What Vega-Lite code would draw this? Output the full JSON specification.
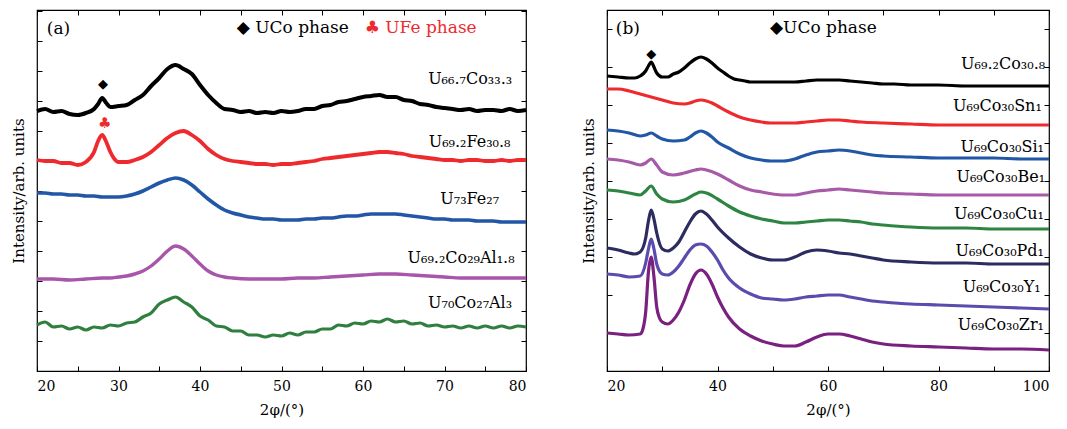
{
"$schema":"https://vega.github.io/schema/vega-lite/v6.json",
"background":"white",
"padding":{"left":10,"top":8,"right":5,"bottom":5},
"config":{"font":"DejaVu Serif","view":{"stroke":"black","strokeWidth":1.2},
"axis":{"grid":false,"domain":false,"tickColor":"black","labelColor":"black","titleColor":"black","labelFontSize":14,"titleFontSize":15,"titleFontWeight":"normal","tickSize":-5,"labelFont":"DejaVu Serif","titleFont":"DejaVu Serif"},
"axisX":{"labelPadding":13,"titlePadding":9},
"axisY":{"labelPadding":9,"titlePadding":10}},
"spacing":81,
"bounds":"flush",
"resolve":{"scale":{"color":"independent","strokeWidth":"independent"}},
"datasets":{
"a":[
{"s":"a1","x":20,"y":260},{"s":"a1","x":21,"y":262},{"s":"a1","x":22,"y":259},{"s":"a1","x":23,"y":260},{"s":"a1","x":24,"y":257},{"s":"a1","x":25,"y":256},{"s":"a1","x":26,"y":258},{"s":"a1","x":27,"y":262},{"s":"a1","x":27.5,"y":267},{"s":"a1","x":28,"y":273},{"s":"a1","x":28.5,"y":268},{"s":"a1","x":29,"y":264},{"s":"a1","x":30,"y":265},{"s":"a1","x":31,"y":266},{"s":"a1","x":32,"y":271},{"s":"a1","x":33,"y":276},{"s":"a1","x":34,"y":285},{"s":"a1","x":35,"y":293},{"s":"a1","x":36,"y":302},{"s":"a1","x":37,"y":306},{"s":"a1","x":38,"y":302},{"s":"a1","x":39,"y":297},{"s":"a1","x":40,"y":286},{"s":"a1","x":41,"y":276},{"s":"a1","x":42,"y":268},{"s":"a1","x":43,"y":262},{"s":"a1","x":44,"y":261},{"s":"a1","x":45,"y":259},{"s":"a1","x":46,"y":260},{"s":"a1","x":47,"y":258},{"s":"a1","x":48,"y":259},{"s":"a1","x":49,"y":258},{"s":"a1","x":50,"y":260},{"s":"a1","x":51,"y":259},{"s":"a1","x":52,"y":260},{"s":"a1","x":53,"y":262},{"s":"a1","x":54,"y":262},{"s":"a1","x":55,"y":265},{"s":"a1","x":56,"y":266},{"s":"a1","x":57,"y":269},{"s":"a1","x":58,"y":270},{"s":"a1","x":59,"y":272},{"s":"a1","x":60,"y":274},{"s":"a1","x":61,"y":275},{"s":"a1","x":62,"y":276},{"s":"a1","x":63,"y":274},{"s":"a1","x":64,"y":274},{"s":"a1","x":65,"y":271},{"s":"a1","x":66,"y":270},{"s":"a1","x":67,"y":267},{"s":"a1","x":68,"y":266},{"s":"a1","x":69,"y":264},{"s":"a1","x":70,"y":263},{"s":"a1","x":71,"y":262},{"s":"a1","x":72,"y":261},{"s":"a1","x":73,"y":262},{"s":"a1","x":74,"y":260},{"s":"a1","x":75,"y":261},{"s":"a1","x":76,"y":261},{"s":"a1","x":77,"y":260},{"s":"a1","x":78,"y":262},{"s":"a1","x":79,"y":260},{"s":"a1","x":80,"y":261},
{"s":"a2","x":20,"y":211},{"s":"a2","x":21,"y":210},{"s":"a2","x":22,"y":210},{"s":"a2","x":23,"y":208},{"s":"a2","x":24,"y":208},{"s":"a2","x":25,"y":206},{"s":"a2","x":26,"y":209},{"s":"a2","x":27,"y":219},{"s":"a2","x":27.5,"y":230},{"s":"a2","x":28,"y":236},{"s":"a2","x":28.5,"y":229},{"s":"a2","x":29,"y":219},{"s":"a2","x":29.5,"y":212},{"s":"a2","x":30,"y":209},{"s":"a2","x":31,"y":209},{"s":"a2","x":32,"y":211},{"s":"a2","x":33,"y":214},{"s":"a2","x":34,"y":219},{"s":"a2","x":35,"y":226},{"s":"a2","x":36,"y":233},{"s":"a2","x":37,"y":238},{"s":"a2","x":38,"y":240},{"s":"a2","x":39,"y":236},{"s":"a2","x":40,"y":230},{"s":"a2","x":41,"y":222},{"s":"a2","x":42,"y":216},{"s":"a2","x":43,"y":212},{"s":"a2","x":44,"y":210},{"s":"a2","x":45,"y":209},{"s":"a2","x":46,"y":208},{"s":"a2","x":47,"y":207},{"s":"a2","x":48,"y":207},{"s":"a2","x":49,"y":206},{"s":"a2","x":50,"y":207},{"s":"a2","x":51,"y":207},{"s":"a2","x":52,"y":208},{"s":"a2","x":53,"y":209},{"s":"a2","x":54,"y":210},{"s":"a2","x":55,"y":212},{"s":"a2","x":56,"y":213},{"s":"a2","x":57,"y":214},{"s":"a2","x":58,"y":215},{"s":"a2","x":59,"y":216},{"s":"a2","x":60,"y":217},{"s":"a2","x":61,"y":218},{"s":"a2","x":62,"y":219},{"s":"a2","x":63,"y":219},{"s":"a2","x":64,"y":218},{"s":"a2","x":65,"y":217},{"s":"a2","x":66,"y":215},{"s":"a2","x":67,"y":214},{"s":"a2","x":68,"y":213},{"s":"a2","x":69,"y":212},{"s":"a2","x":70,"y":211},{"s":"a2","x":71,"y":211},{"s":"a2","x":72,"y":210},{"s":"a2","x":73,"y":211},{"s":"a2","x":74,"y":211},{"s":"a2","x":75,"y":210},{"s":"a2","x":76,"y":210},{"s":"a2","x":77,"y":211},{"s":"a2","x":78,"y":210},{"s":"a2","x":79,"y":211},{"s":"a2","x":80,"y":211},
{"s":"a3","x":20,"y":178},{"s":"a3","x":21,"y":178},{"s":"a3","x":22,"y":177},{"s":"a3","x":23,"y":177},{"s":"a3","x":24,"y":176},{"s":"a3","x":25,"y":176},{"s":"a3","x":26,"y":175},{"s":"a3","x":27,"y":175},{"s":"a3","x":28,"y":174},{"s":"a3","x":29,"y":174},{"s":"a3","x":30,"y":174},{"s":"a3","x":31,"y":175},{"s":"a3","x":32,"y":177},{"s":"a3","x":33,"y":180},{"s":"a3","x":34,"y":184},{"s":"a3","x":35,"y":188},{"s":"a3","x":36,"y":191},{"s":"a3","x":37,"y":193},{"s":"a3","x":38,"y":191},{"s":"a3","x":39,"y":186},{"s":"a3","x":40,"y":179},{"s":"a3","x":41,"y":172},{"s":"a3","x":42,"y":166},{"s":"a3","x":43,"y":161},{"s":"a3","x":44,"y":158},{"s":"a3","x":45,"y":156},{"s":"a3","x":46,"y":154},{"s":"a3","x":47,"y":153},{"s":"a3","x":48,"y":152},{"s":"a3","x":49,"y":152},{"s":"a3","x":50,"y":151},{"s":"a3","x":51,"y":151},{"s":"a3","x":52,"y":151},{"s":"a3","x":53,"y":152},{"s":"a3","x":54,"y":152},{"s":"a3","x":55,"y":153},{"s":"a3","x":56,"y":153},{"s":"a3","x":57,"y":154},{"s":"a3","x":58,"y":155},{"s":"a3","x":59,"y":155},{"s":"a3","x":60,"y":156},{"s":"a3","x":61,"y":157},{"s":"a3","x":62,"y":157},{"s":"a3","x":63,"y":157},{"s":"a3","x":64,"y":157},{"s":"a3","x":65,"y":156},{"s":"a3","x":66,"y":155},{"s":"a3","x":67,"y":154},{"s":"a3","x":68,"y":153},{"s":"a3","x":69,"y":152},{"s":"a3","x":70,"y":152},{"s":"a3","x":71,"y":151},{"s":"a3","x":72,"y":151},{"s":"a3","x":73,"y":151},{"s":"a3","x":74,"y":150},{"s":"a3","x":75,"y":150},{"s":"a3","x":76,"y":150},{"s":"a3","x":77,"y":149},{"s":"a3","x":78,"y":149},{"s":"a3","x":79,"y":149},{"s":"a3","x":80,"y":149},
{"s":"a4","x":20,"y":92},{"s":"a4","x":22,"y":92},{"s":"a4","x":24,"y":91},{"s":"a4","x":26,"y":92},{"s":"a4","x":28,"y":93},{"s":"a4","x":29,"y":93},{"s":"a4","x":30,"y":94},{"s":"a4","x":31,"y":95},{"s":"a4","x":32,"y":97},{"s":"a4","x":33,"y":100},{"s":"a4","x":34,"y":105},{"s":"a4","x":35,"y":112},{"s":"a4","x":36,"y":120},{"s":"a4","x":37,"y":125},{"s":"a4","x":38,"y":122},{"s":"a4","x":39,"y":115},{"s":"a4","x":40,"y":107},{"s":"a4","x":41,"y":100},{"s":"a4","x":42,"y":96},{"s":"a4","x":43,"y":94},{"s":"a4","x":44,"y":93},{"s":"a4","x":46,"y":92},{"s":"a4","x":48,"y":92},{"s":"a4","x":50,"y":92},{"s":"a4","x":52,"y":93},{"s":"a4","x":54,"y":93},{"s":"a4","x":56,"y":94},{"s":"a4","x":58,"y":95},{"s":"a4","x":60,"y":96},{"s":"a4","x":62,"y":97},{"s":"a4","x":64,"y":97},{"s":"a4","x":66,"y":96},{"s":"a4","x":68,"y":95},{"s":"a4","x":70,"y":94},{"s":"a4","x":72,"y":93},{"s":"a4","x":75,"y":93},{"s":"a4","x":80,"y":93},
{"s":"a5","x":20,"y":46},{"s":"a5","x":21,"y":49},{"s":"a5","x":22,"y":44},{"s":"a5","x":23,"y":45},{"s":"a5","x":24,"y":42},{"s":"a5","x":25,"y":44},{"s":"a5","x":26,"y":41},{"s":"a5","x":27,"y":44},{"s":"a5","x":28,"y":43},{"s":"a5","x":29,"y":46},{"s":"a5","x":30,"y":45},{"s":"a5","x":31,"y":48},{"s":"a5","x":32,"y":49},{"s":"a5","x":33,"y":54},{"s":"a5","x":34,"y":58},{"s":"a5","x":35,"y":67},{"s":"a5","x":36,"y":71},{"s":"a5","x":37,"y":74},{"s":"a5","x":38,"y":69},{"s":"a5","x":39,"y":64},{"s":"a5","x":40,"y":55},{"s":"a5","x":41,"y":51},{"s":"a5","x":42,"y":45},{"s":"a5","x":43,"y":44},{"s":"a5","x":44,"y":40},{"s":"a5","x":45,"y":40},{"s":"a5","x":46,"y":36},{"s":"a5","x":47,"y":36},{"s":"a5","x":48,"y":34},{"s":"a5","x":49,"y":36},{"s":"a5","x":50,"y":35},{"s":"a5","x":51,"y":38},{"s":"a5","x":52,"y":36},{"s":"a5","x":53,"y":39},{"s":"a5","x":54,"y":39},{"s":"a5","x":55,"y":42},{"s":"a5","x":56,"y":42},{"s":"a5","x":57,"y":46},{"s":"a5","x":58,"y":45},{"s":"a5","x":59,"y":48},{"s":"a5","x":60,"y":47},{"s":"a5","x":61,"y":50},{"s":"a5","x":62,"y":49},{"s":"a5","x":63,"y":52},{"s":"a5","x":64,"y":49},{"s":"a5","x":65,"y":50},{"s":"a5","x":66,"y":47},{"s":"a5","x":67,"y":48},{"s":"a5","x":68,"y":45},{"s":"a5","x":69,"y":46},{"s":"a5","x":70,"y":44},{"s":"a5","x":71,"y":45},{"s":"a5","x":72,"y":43},{"s":"a5","x":73,"y":45},{"s":"a5","x":74,"y":43},{"s":"a5","x":75,"y":45},{"s":"a5","x":76,"y":43},{"s":"a5","x":77,"y":45},{"s":"a5","x":78,"y":43},{"s":"a5","x":79,"y":45},{"s":"a5","x":80,"y":44}
],
"b":[
{"s":"b1","x":20,"y":295},{"s":"b1","x":22,"y":294},{"s":"b1","x":24,"y":293},{"s":"b1","x":25,"y":293},{"s":"b1","x":26,"y":295},{"s":"b1","x":27,"y":300},{"s":"b1","x":27.5,"y":305},{"s":"b1","x":28,"y":309},{"s":"b1","x":28.5,"y":304},{"s":"b1","x":29,"y":298},{"s":"b1","x":30,"y":294},{"s":"b1","x":31,"y":294},{"s":"b1","x":32,"y":297},{"s":"b1","x":33,"y":299},{"s":"b1","x":34,"y":303},{"s":"b1","x":35,"y":308},{"s":"b1","x":36,"y":312},{"s":"b1","x":37,"y":314},{"s":"b1","x":38,"y":312},{"s":"b1","x":39,"y":308},{"s":"b1","x":40,"y":303},{"s":"b1","x":41,"y":299},{"s":"b1","x":42,"y":295},{"s":"b1","x":43,"y":292},{"s":"b1","x":44,"y":291},{"s":"b1","x":45,"y":290},{"s":"b1","x":46,"y":289},{"s":"b1","x":48,"y":289},{"s":"b1","x":50,"y":289},{"s":"b1","x":52,"y":289},{"s":"b1","x":54,"y":289},{"s":"b1","x":56,"y":290},{"s":"b1","x":58,"y":291},{"s":"b1","x":60,"y":291},{"s":"b1","x":62,"y":291},{"s":"b1","x":64,"y":290},{"s":"b1","x":66,"y":289},{"s":"b1","x":68,"y":288},{"s":"b1","x":70,"y":287},{"s":"b1","x":72,"y":287},{"s":"b1","x":75,"y":286},{"s":"b1","x":80,"y":286},{"s":"b1","x":85,"y":285},{"s":"b1","x":90,"y":285},{"s":"b1","x":95,"y":285},{"s":"b1","x":100,"y":285},
{"s":"b2","x":20,"y":282},{"s":"b2","x":22,"y":282},{"s":"b2","x":24,"y":280},{"s":"b2","x":26,"y":277},{"s":"b2","x":28,"y":274},{"s":"b2","x":30,"y":271},{"s":"b2","x":32,"y":268},{"s":"b2","x":34,"y":267},{"s":"b2","x":35,"y":268},{"s":"b2","x":36,"y":270},{"s":"b2","x":37,"y":271},{"s":"b2","x":38,"y":270},{"s":"b2","x":39,"y":268},{"s":"b2","x":40,"y":265},{"s":"b2","x":42,"y":259},{"s":"b2","x":44,"y":254},{"s":"b2","x":46,"y":251},{"s":"b2","x":48,"y":249},{"s":"b2","x":50,"y":248},{"s":"b2","x":52,"y":248},{"s":"b2","x":54,"y":248},{"s":"b2","x":56,"y":249},{"s":"b2","x":58,"y":250},{"s":"b2","x":60,"y":251},{"s":"b2","x":62,"y":251},{"s":"b2","x":64,"y":250},{"s":"b2","x":66,"y":249},{"s":"b2","x":70,"y":248},{"s":"b2","x":75,"y":247},{"s":"b2","x":80,"y":246},{"s":"b2","x":85,"y":246},{"s":"b2","x":90,"y":246},{"s":"b2","x":95,"y":246},{"s":"b2","x":100,"y":246},
{"s":"b3","x":20,"y":241},{"s":"b3","x":22,"y":240},{"s":"b3","x":24,"y":238},{"s":"b3","x":26,"y":235},{"s":"b3","x":27,"y":236},{"s":"b3","x":28,"y":238},{"s":"b3","x":29,"y":235},{"s":"b3","x":30,"y":232},{"s":"b3","x":32,"y":230},{"s":"b3","x":34,"y":231},{"s":"b3","x":35,"y":234},{"s":"b3","x":36,"y":238},{"s":"b3","x":37,"y":240},{"s":"b3","x":38,"y":238},{"s":"b3","x":39,"y":234},{"s":"b3","x":40,"y":229},{"s":"b3","x":42,"y":223},{"s":"b3","x":44,"y":217},{"s":"b3","x":46,"y":213},{"s":"b3","x":48,"y":211},{"s":"b3","x":50,"y":210},{"s":"b3","x":52,"y":210},{"s":"b3","x":54,"y":212},{"s":"b3","x":56,"y":216},{"s":"b3","x":58,"y":219},{"s":"b3","x":60,"y":220},{"s":"b3","x":62,"y":221},{"s":"b3","x":64,"y":220},{"s":"b3","x":66,"y":218},{"s":"b3","x":68,"y":216},{"s":"b3","x":70,"y":215},{"s":"b3","x":75,"y":214},{"s":"b3","x":80,"y":213},{"s":"b3","x":85,"y":213},{"s":"b3","x":90,"y":213},{"s":"b3","x":95,"y":212},{"s":"b3","x":100,"y":212},
{"s":"b4","x":20,"y":212},{"s":"b4","x":22,"y":211},{"s":"b4","x":24,"y":209},{"s":"b4","x":26,"y":206},{"s":"b4","x":27,"y":208},{"s":"b4","x":28,"y":212},{"s":"b4","x":29,"y":206},{"s":"b4","x":30,"y":199},{"s":"b4","x":32,"y":196},{"s":"b4","x":34,"y":198},{"s":"b4","x":36,"y":201},{"s":"b4","x":37,"y":202},{"s":"b4","x":38,"y":201},{"s":"b4","x":40,"y":197},{"s":"b4","x":42,"y":191},{"s":"b4","x":44,"y":185},{"s":"b4","x":46,"y":181},{"s":"b4","x":48,"y":179},{"s":"b4","x":50,"y":177},{"s":"b4","x":52,"y":176},{"s":"b4","x":54,"y":176},{"s":"b4","x":56,"y":178},{"s":"b4","x":58,"y":180},{"s":"b4","x":60,"y":181},{"s":"b4","x":62,"y":182},{"s":"b4","x":64,"y":181},{"s":"b4","x":66,"y":180},{"s":"b4","x":68,"y":179},{"s":"b4","x":70,"y":178},{"s":"b4","x":75,"y":177},{"s":"b4","x":80,"y":176},{"s":"b4","x":85,"y":176},{"s":"b4","x":90,"y":176},{"s":"b4","x":95,"y":176},{"s":"b4","x":100,"y":176},
{"s":"b5","x":20,"y":181},{"s":"b5","x":22,"y":180},{"s":"b5","x":24,"y":178},{"s":"b5","x":26,"y":176},{"s":"b5","x":27,"y":180},{"s":"b5","x":28,"y":185},{"s":"b5","x":29,"y":177},{"s":"b5","x":30,"y":172},{"s":"b5","x":32,"y":169},{"s":"b5","x":34,"y":171},{"s":"b5","x":36,"y":177},{"s":"b5","x":37,"y":179},{"s":"b5","x":38,"y":178},{"s":"b5","x":40,"y":172},{"s":"b5","x":42,"y":165},{"s":"b5","x":44,"y":159},{"s":"b5","x":46,"y":155},{"s":"b5","x":48,"y":152},{"s":"b5","x":50,"y":150},{"s":"b5","x":52,"y":148},{"s":"b5","x":54,"y":148},{"s":"b5","x":56,"y":149},{"s":"b5","x":58,"y":150},{"s":"b5","x":60,"y":151},{"s":"b5","x":62,"y":151},{"s":"b5","x":64,"y":150},{"s":"b5","x":66,"y":149},{"s":"b5","x":68,"y":147},{"s":"b5","x":70,"y":146},{"s":"b5","x":75,"y":144},{"s":"b5","x":80,"y":143},{"s":"b5","x":85,"y":143},{"s":"b5","x":90,"y":142},{"s":"b5","x":95,"y":142},{"s":"b5","x":100,"y":142},
{"s":"b6","x":20,"y":123},{"s":"b6","x":22,"y":121},{"s":"b6","x":24,"y":118},{"s":"b6","x":25,"y":117},{"s":"b6","x":26,"y":119},{"s":"b6","x":27,"y":133},{"s":"b6","x":27.5,"y":150},{"s":"b6","x":28,"y":161},{"s":"b6","x":28.5,"y":152},{"s":"b6","x":29,"y":138},{"s":"b6","x":30,"y":122},{"s":"b6","x":31,"y":120},{"s":"b6","x":32,"y":123},{"s":"b6","x":33,"y":129},{"s":"b6","x":34,"y":139},{"s":"b6","x":35,"y":149},{"s":"b6","x":36,"y":157},{"s":"b6","x":37,"y":160},{"s":"b6","x":38,"y":157},{"s":"b6","x":39,"y":151},{"s":"b6","x":40,"y":144},{"s":"b6","x":42,"y":133},{"s":"b6","x":44,"y":124},{"s":"b6","x":46,"y":117},{"s":"b6","x":48,"y":113},{"s":"b6","x":50,"y":111},{"s":"b6","x":52,"y":111},{"s":"b6","x":54,"y":114},{"s":"b6","x":56,"y":119},{"s":"b6","x":58,"y":121},{"s":"b6","x":60,"y":120},{"s":"b6","x":62,"y":118},{"s":"b6","x":64,"y":117},{"s":"b6","x":66,"y":115},{"s":"b6","x":68,"y":113},{"s":"b6","x":70,"y":111},{"s":"b6","x":75,"y":109},{"s":"b6","x":80,"y":108},{"s":"b6","x":85,"y":108},{"s":"b6","x":90,"y":107},{"s":"b6","x":95,"y":107},{"s":"b6","x":100,"y":107},
{"s":"b7","x":20,"y":97},{"s":"b7","x":22,"y":96},{"s":"b7","x":24,"y":94},{"s":"b7","x":26,"y":95},{"s":"b7","x":27,"y":108},{"s":"b7","x":27.5,"y":122},{"s":"b7","x":28,"y":132},{"s":"b7","x":28.5,"y":122},{"s":"b7","x":29,"y":107},{"s":"b7","x":30,"y":97},{"s":"b7","x":31,"y":96},{"s":"b7","x":32,"y":99},{"s":"b7","x":33,"y":105},{"s":"b7","x":34,"y":113},{"s":"b7","x":35,"y":121},{"s":"b7","x":36,"y":126},{"s":"b7","x":37,"y":127},{"s":"b7","x":38,"y":125},{"s":"b7","x":39,"y":119},{"s":"b7","x":40,"y":111},{"s":"b7","x":41,"y":101},{"s":"b7","x":42,"y":93},{"s":"b7","x":44,"y":83},{"s":"b7","x":46,"y":77},{"s":"b7","x":48,"y":73},{"s":"b7","x":50,"y":72},{"s":"b7","x":52,"y":71},{"s":"b7","x":54,"y":72},{"s":"b7","x":56,"y":74},{"s":"b7","x":58,"y":75},{"s":"b7","x":60,"y":76},{"s":"b7","x":62,"y":76},{"s":"b7","x":64,"y":74},{"s":"b7","x":66,"y":72},{"s":"b7","x":68,"y":70},{"s":"b7","x":70,"y":69},{"s":"b7","x":75,"y":67},{"s":"b7","x":80,"y":66},{"s":"b7","x":85,"y":65},{"s":"b7","x":90,"y":64},{"s":"b7","x":95,"y":63},{"s":"b7","x":100,"y":62},
{"s":"b8","x":20,"y":38},{"s":"b8","x":22,"y":37},{"s":"b8","x":24,"y":36},{"s":"b8","x":26,"y":37},{"s":"b8","x":26.5,"y":42},{"s":"b8","x":27,"y":59},{"s":"b8","x":27.5,"y":99},{"s":"b8","x":28,"y":114},{"s":"b8","x":28.5,"y":94},{"s":"b8","x":29,"y":64},{"s":"b8","x":29.5,"y":53},{"s":"b8","x":30,"y":49},{"s":"b8","x":31,"y":47},{"s":"b8","x":32,"y":51},{"s":"b8","x":33,"y":59},{"s":"b8","x":34,"y":71},{"s":"b8","x":35,"y":86},{"s":"b8","x":36,"y":97},{"s":"b8","x":37,"y":101},{"s":"b8","x":38,"y":97},{"s":"b8","x":39,"y":87},{"s":"b8","x":40,"y":74},{"s":"b8","x":41,"y":63},{"s":"b8","x":42,"y":54},{"s":"b8","x":44,"y":42},{"s":"b8","x":46,"y":35},{"s":"b8","x":48,"y":30},{"s":"b8","x":50,"y":27},{"s":"b8","x":52,"y":25},{"s":"b8","x":54,"y":25},{"s":"b8","x":56,"y":29},{"s":"b8","x":58,"y":34},{"s":"b8","x":60,"y":37},{"s":"b8","x":62,"y":37},{"s":"b8","x":64,"y":35},{"s":"b8","x":66,"y":32},{"s":"b8","x":68,"y":29},{"s":"b8","x":70,"y":27},{"s":"b8","x":75,"y":25},{"s":"b8","x":80,"y":24},{"s":"b8","x":85,"y":23},{"s":"b8","x":90,"y":22},{"s":"b8","x":95,"y":22},{"s":"b8","x":100,"y":21}
],
"la":[
{"t":"U₆₆.₇Co₃₃.₃","x":78.3,"y":292},{"t":"U₆₉.₂Fe₃₀.₈","x":78.1,"y":229},{"t":"U₇₃Fe₂₇","x":76.7,"y":172},{"t":"U₆₉.₂Co₂₉Al₁.₈","x":78.6,"y":113},{"t":"U₇₀Co₂₇Al₃","x":78.3,"y":68}
],
"lb":[
{"t":"U₆₉.₂Co₃₀.₈","x":99.3,"y":307},{"t":"U₆₉Co₃₀Sn₁","x":98.7,"y":265},{"t":"U₆₉Co₃₀Si₁","x":99.1,"y":224},{"t":"U₆₉Co₃₀Be₁","x":99.3,"y":194},{"t":"U₆₉Co₃₀Cu₁","x":99.1,"y":157},{"t":"U₆₉Co₃₀Pd₁","x":99.1,"y":120},{"t":"U₆₉Co₃₀Y₁","x":98.5,"y":84},{"t":"U₆₉Co₃₀Zr₁","x":99.1,"y":46}
],
"na":[{"t":"(a)","x":21.2,"y":342},{"t":"◆  UCo phase","x":44.5,"y":343}],
"nr":[{"t":"♣ UFe phase","x":60.2,"y":343}],
"ma":[{"t":"◆","x":28.1,"y":287}],
"mr":[{"t":"♣","x":28.3,"y":248}],
"nb":[{"t":"(b)","x":21.6,"y":342},{"t":"◆UCo phase","x":49.5,"y":343}],
"mb":[{"t":"◆","x":28,"y":317}]
},
"hconcat":[
{"width":489,"height":361,
"resolve":{"axis":{"x":"independent","y":"independent"}},
"layer":[
{"data":{"name":"a"},"mark":{"type":"line","interpolate":"monotone"},
"encoding":{
"x":{"field":"x","type":"quantitative","scale":{"domain":[20,80],"nice":false},"axis":{"orient":"bottom","values":[20,25,30,35,40,45,50,55,60,65,70,75,80],"labelExpr":"datum.value % 10 == 0 ? datum.label : ''","title":"2φ/(°)"}},
"y":{"field":"y","type":"quantitative","scale":{"domain":[0,361],"nice":false,"zero":false},"axis":{"orient":"left","values":[0,30,60,90,120,150,180,210,240,270,300,330,360],"labels":false,"title":"Intensity/arb. units"}},
"color":{"field":"s","type":"nominal","scale":{"domain":["a1","a2","a3","a4","a5"],"range":["#000000","#ee2a2e","#2157a6","#a856aa","#2f7f3f"]},"legend":null},
"strokeWidth":{"field":"s","type":"nominal","scale":{"domain":["a1","a2","a3","a4","a5"],"range":[4,3.2,3.2,2.6,5.5]},"legend":null}}},
{"data":{"name":"la"},"mark":{"type":"text","align":"right","baseline":"middle","fontSize":16},
"encoding":{"x":{"field":"x","type":"quantitative","axis":{"orient":"top","values":[20,25,30,35,40,45,50,55,60,65,70,75,80],"labels":false,"title":null}},
"y":{"field":"y","type":"quantitative","axis":{"orient":"right","values":[0,30,60,90,120,150,180,210,240,270,300,330,360],"labels":false,"title":null}},
"text":{"field":"t"}}},
{"data":{"name":"na"},"mark":{"type":"text","align":"left","baseline":"middle","fontSize":17,"color":"#000000"},
"encoding":{"x":{"field":"x","type":"quantitative","axis":null},"y":{"field":"y","type":"quantitative","axis":null},"text":{"field":"t"}}},
{"data":{"name":"nr"},"mark":{"type":"text","align":"left","baseline":"middle","fontSize":17,"color":"#ee2a2e"},
"encoding":{"x":{"field":"x","type":"quantitative","axis":null},"y":{"field":"y","type":"quantitative","axis":null},"text":{"field":"t"}}},
{"data":{"name":"ma"},"mark":{"type":"text","align":"center","baseline":"middle","fontSize":13,"color":"#000000"},
"encoding":{"x":{"field":"x","type":"quantitative","axis":null},"y":{"field":"y","type":"quantitative","axis":null},"text":{"field":"t"}}},
{"data":{"name":"mr"},"mark":{"type":"text","align":"center","baseline":"middle","fontSize":15,"color":"#ee2a2e"},
"encoding":{"x":{"field":"x","type":"quantitative","axis":null},"y":{"field":"y","type":"quantitative","axis":null},"text":{"field":"t"}}}
]},
{"width":442,"height":361,
"resolve":{"axis":{"x":"independent","y":"independent"}},
"layer":[
{"data":{"name":"b"},"mark":{"type":"line","interpolate":"monotone","strokeWidth":3.2},
"encoding":{
"x":{"field":"x","type":"quantitative","scale":{"domain":[20,100],"nice":false},"axis":{"orient":"bottom","values":[20,30,40,50,60,70,80,90,100],"labelExpr":"datum.value % 20 == 0 ? datum.label : ''","title":"2φ/(°)"}},
"y":{"field":"y","type":"quantitative","scale":{"domain":[0,361],"nice":false,"zero":false},"axis":{"orient":"left","values":[38,76,114,152,190,228,266,304,342],"labels":false,"title":"Intensity/arb. units"}},
"color":{"field":"s","type":"nominal","scale":{"domain":["b1","b2","b3","b4","b5","b6","b7","b8"],"range":["#000000","#ee2a2e","#2157a6","#a65aa8","#2e8443","#2c2c60","#5a4cad","#7a2080"]},"legend":null}}},
{"data":{"name":"lb"},"mark":{"type":"text","align":"right","baseline":"middle","fontSize":16},
"encoding":{"x":{"field":"x","type":"quantitative","axis":{"orient":"top","values":[20,30,40,50,60,70,80,90,100],"labels":false,"title":null}},
"y":{"field":"y","type":"quantitative","axis":{"orient":"right","values":[38,76,114,152,190,228,266,304,342],"labels":false,"title":null}},
"text":{"field":"t"}}},
{"data":{"name":"nb"},"mark":{"type":"text","align":"left","baseline":"middle","fontSize":17,"color":"#000000"},
"encoding":{"x":{"field":"x","type":"quantitative","axis":null},"y":{"field":"y","type":"quantitative","axis":null},"text":{"field":"t"}}},
{"data":{"name":"mb"},"mark":{"type":"text","align":"center","baseline":"middle","fontSize":13,"color":"#000000"},
"encoding":{"x":{"field":"x","type":"quantitative","axis":null},"y":{"field":"y","type":"quantitative","axis":null},"text":{"field":"t"}}}
]}
]
}
